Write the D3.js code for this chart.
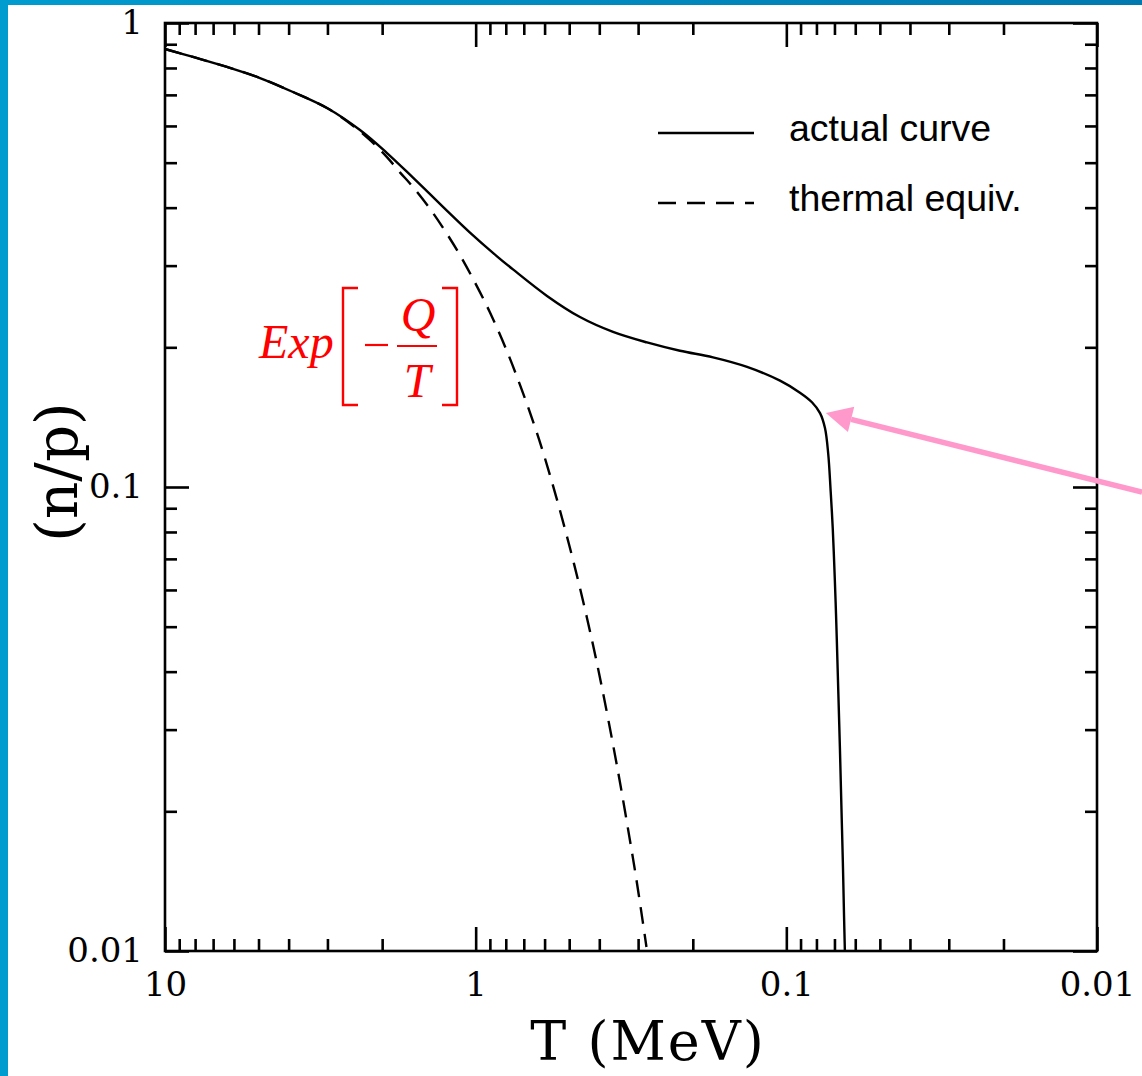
<!DOCTYPE html>
<html>
<head>
<meta charset="utf-8">
<script src="https://cdn.jsdelivr.net/npm/d3@7"></script>
<style>
  html, body { margin: 0; padding: 0; background: #ffffff; }
  svg { display: block; }
</style>
</head>
<body>
<svg id="chart" width="1142" height="1076"></svg>
<script>
// ---------- data ----------
const actualT  = [10, 8.126, 6.317, 4.945, 3.872, 3.010, 2.357, 1.929, 1.591, 1.274, 1.043, 0.8538, 0.7584, 0.5893, 0.4616, 0.3613, 0.2809, 0.2200, 0.1722, 0.1338, 0.1048, 0.0904, 0.0827, 0.0779, 0.0751, 0.0733, 0.0720, 0.0709, 0.0701, 0.0694, 0.0688, 0.0680, 0.0672, 0.0665, 0.0658, 0.0652, 0.0648];
const actualNP = [0.879, 0.845, 0.804, 0.761, 0.710, 0.656, 0.588, 0.5245, 0.4641, 0.4017, 0.3535, 0.3142, 0.2944, 0.2581, 0.2324, 0.2159, 0.2049, 0.1966, 0.1903, 0.1815, 0.1695, 0.1597, 0.1523, 0.1443, 0.134, 0.1178, 0.098, 0.0816, 0.0679, 0.0565, 0.047, 0.0358, 0.0271, 0.0206, 0.0157, 0.0119, 0.0100];

const thermalT  = [10, 8.13, 6.32, 4.94, 3.87, 3.01, 2.5, 2.2, 1.93, 1.75, 1.6, 1.4, 1.25, 1.12, 1.0, 0.9, 0.8, 0.72, 0.65, 0.6, 0.55, 0.5, 0.46, 0.42, 0.39, 0.36, 0.34, 0.32, 0.305, 0.29, 0.282];
const thermalNP = [0.879, 0.845, 0.804, 0.761, 0.710, 0.656, 0.603, 0.561, 0.514, 0.476, 0.445, 0.397, 0.355, 0.315, 0.274, 0.238, 0.199, 0.166, 0.137, 0.116, 0.095, 0.075, 0.060, 0.046, 0.0363, 0.0275, 0.0223, 0.0176, 0.0145, 0.0116, 0.0102];

const xMajorTicks  = [10, 1, 0.1, 0.01];
const xTickLabels  = ["10", "1", "0.1", "0.01"];
const yMajorTicks  = [0.01, 0.1, 1];
const yTickLabels  = ["0.01", "0.1", "1"];

const seriesNames = ["actual curve", "thermal equiv."];
const xTitle = "T (MeV)";
const yTitle = "(n/p)";

// arrow annotation (data coords): tip and tail
const arrowTip  = [0.0746, 0.1443];
const arrowTail = [0.00716, 0.0975];

// ---------- layout ----------
const svg = d3.select("#chart");
const L = 165, R = 1097, T = 23, B = 951;

const x = d3.scaleLog().domain([10, 0.01]).range([L, R]);
const y = d3.scaleLog().domain([0.01, 1]).range([B, T]);

// background + blue border
const defs = svg.append("defs");
const grad = defs.append("linearGradient").attr("id", "topgrad").attr("x1", "0%").attr("x2", "100%");
grad.append("stop").attr("offset", "0%").attr("stop-color", "#009ccf");
grad.append("stop").attr("offset", "100%").attr("stop-color", "#0079b0");
svg.append("rect").attr("width", 1142).attr("height", 1076).attr("fill", "#ffffff");
svg.append("rect").attr("x", 0).attr("y", 0).attr("width", 1142).attr("height", 5).attr("fill", "url(#topgrad)");
svg.append("rect").attr("x", 0).attr("y", 0).attr("width", 8).attr("height", 1076).attr("fill", "#009ccf");

// ticks
const xAll = x.ticks();
const yAll = y.ticks();
const isMajor = v => Math.abs(Math.log10(v) - Math.round(Math.log10(v))) < 1e-6;
const xMinor = xAll.filter(v => !isMajor(v));
const yMinor = yAll.filter(v => !isMajor(v));

const tickFont = "'DejaVu Serif', serif";
function styleAxis(g) {
  g.select(".domain").remove();
  g.selectAll(".tick line").attr("stroke", "#000").attr("stroke-width", 2.6);
  g.selectAll(".tick text").attr("font-family", tickFont).attr("font-size", 34).attr("fill", "#000");
}
// bottom
svg.append("g").attr("transform", `translate(0,${B})`)
  .call(d3.axisBottom(x).tickValues(xMinor).tickSize(-12).tickFormat("")).call(styleAxis);
svg.append("g").attr("transform", `translate(0,${B})`)
  .call(d3.axisBottom(x).tickValues(xMajorTicks).tickSize(-24).tickPadding(21)
    .tickFormat((d, i) => xTickLabels[i])).call(styleAxis);
// top
svg.append("g").attr("transform", `translate(0,${T})`)
  .call(d3.axisTop(x).tickValues(xMinor).tickSize(-12).tickFormat("")).call(styleAxis);
svg.append("g").attr("transform", `translate(0,${T})`)
  .call(d3.axisTop(x).tickValues(xMajorTicks).tickSize(-24).tickFormat("")).call(styleAxis);
// left
svg.append("g").attr("transform", `translate(${L},0)`)
  .call(d3.axisLeft(y).tickValues(yMinor).tickSize(-12).tickFormat("")).call(styleAxis);
svg.append("g").attr("transform", `translate(${L},0)`)
  .call(d3.axisLeft(y).tickValues(yMajorTicks).tickSize(-24).tickPadding(22)
    .tickFormat((d, i) => yTickLabels[i])).call(styleAxis);
// right
svg.append("g").attr("transform", `translate(${R},0)`)
  .call(d3.axisRight(y).tickValues(yMinor).tickSize(-12).tickFormat("")).call(styleAxis);
svg.append("g").attr("transform", `translate(${R},0)`)
  .call(d3.axisRight(y).tickValues(yMajorTicks).tickSize(-24).tickFormat("")).call(styleAxis);

// frame
svg.append("rect").attr("x", L).attr("y", T).attr("width", R - L).attr("height", B - T)
  .attr("fill", "none").attr("stroke", "#000").attr("stroke-width", 2.6);

// curves
const line = d3.line().x(d => x(d[0])).y(d => y(d[1])).curve(d3.curveCatmullRom.alpha(0.5));
const actual = actualT.map((t, i) => [t, actualNP[i]]);
const thermal = thermalT.map((t, i) => [t, thermalNP[i]]);

svg.append("path").datum(actual).attr("d", line)
  .attr("fill", "none").attr("stroke", "#000").attr("stroke-width", 2.4);
svg.append("path").datum(thermal).attr("d", line)
  .attr("fill", "none").attr("stroke", "#000").attr("stroke-width", 2.4)
  .attr("stroke-dasharray", "17,10");

// legend
const leg = svg.append("g");
const legY = [133, 203];
const legDash = [null, "18,11"];
seriesNames.forEach((name, i) => {
  leg.append("line").attr("x1", 658).attr("x2", 754).attr("y1", legY[i]).attr("y2", legY[i])
    .attr("stroke", "#000").attr("stroke-width", 2.5)
    .attr("stroke-dasharray", legDash[i]);
  leg.append("text").attr("x", 789).attr("y", legY[i] + 8)
    .attr("font-family", "'Liberation Sans', Arial, sans-serif").attr("font-size", 37.5)
    .attr("fill", "#000").text(name);
});

// axis titles
svg.append("text").attr("x", 648).attr("y", 1060).attr("text-anchor", "middle")
  .attr("font-family", tickFont).attr("font-size", 54).attr("letter-spacing", 2)
  .attr("fill", "#000").text(xTitle);
svg.append("text").attr("transform", "translate(77,472) rotate(-90)").attr("text-anchor", "middle")
  .attr("font-family", tickFont).attr("font-size", 58).attr("fill", "#000").text(yTitle);

// red formula Exp[-Q/T]
const red = "#ff0000";
const f = svg.append("g").attr("fill", red).attr("font-family", "'Liberation Serif', 'Times New Roman', serif")
  .attr("font-style", "italic").attr("font-size", 48);
f.append("text").attr("x", 259).attr("y", 358).text("Exp");
f.append("path").attr("d", "M358,288 H343 V405 H358").attr("fill", "none").attr("stroke", red).attr("stroke-width", 2.4);
f.append("path").attr("d", "M442,288 H457 V405 H442").attr("fill", "none").attr("stroke", red).attr("stroke-width", 2.4);
f.append("line").attr("x1", 365).attr("x2", 388).attr("y1", 345).attr("y2", 345).attr("stroke", red).attr("stroke-width", 2.2);
f.append("line").attr("x1", 397).attr("x2", 437).attr("y1", 346).attr("y2", 346).attr("stroke", red).attr("stroke-width", 2.2);
f.append("text").attr("x", 418).attr("y", 331).attr("text-anchor", "middle").text("Q");
f.append("text").attr("x", 417).attr("y", 397).attr("text-anchor", "middle").text("T");

// pink arrow
const pink = "#ff99cc";
const tx = x(arrowTip[0]), ty = y(arrowTip[1]);
const sx = x(arrowTail[0]), sy = y(arrowTail[1]);
const ang = Math.atan2(ty - sy, tx - sx);
const headLen = 26, headW = 13;
const bx = tx - headLen * Math.cos(ang), by = ty - headLen * Math.sin(ang);
svg.append("line").attr("x1", sx).attr("y1", sy).attr("x2", bx).attr("y2", by)
  .attr("stroke", pink).attr("stroke-width", 5.5);
svg.append("polygon").attr("fill", pink).attr("points", [
  [tx, ty],
  [bx + headW * Math.sin(ang), by - headW * Math.cos(ang)],
  [bx - headW * Math.sin(ang), by + headW * Math.cos(ang)]
].map(p => p.join(",")).join(" "));
</script>
</body>
</html>
